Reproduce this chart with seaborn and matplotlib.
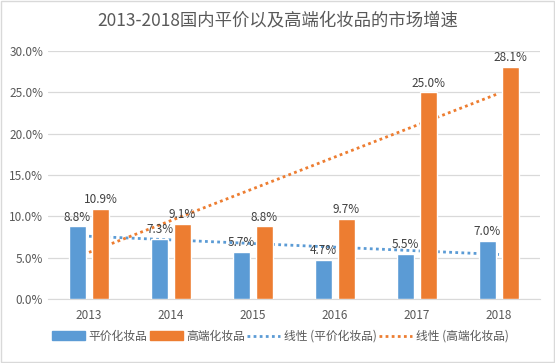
import numpy as np
import pandas as pd
import seaborn as sns
import matplotlib.pyplot as plt
from matplotlib.patches import Patch
from matplotlib.lines import Line2D

years = ['2013', '2014', '2015', '2016', '2017', '2018']
pingjia = [8.8, 7.3, 5.7, 4.7, 5.5, 7.0]
gaoduan = [10.9, 9.1, 8.8, 9.7, 25.0, 28.1]
series_names = ['平价化妆品', '高端化妆品']
trend_names = ['线性 (平价化妆品)', '线性 (高端化妆品)']
y_ticks = [0, 5, 10, 15, 20, 25, 30]

blue = '#5B9BD5'
orange = '#ED7D31'
txt = '#595959'

df = pd.DataFrame({
    'year': years * 2,
    'rate': pingjia + gaoduan,
    'kind': [series_names[0]] * 6 + [series_names[1]] * 6,
})

sns.set_style('white')
plt.rcParams['font.family'] = ['Noto Sans CJK SC', 'DejaVu Sans']

fig = plt.figure(figsize=(5.55, 3.63), dpi=100)
ax = fig.add_axes([0.0865, 0.176, 0.8865, 0.6835])

sns.barplot(data=df, x='year', y='rate', hue='kind', palette=[blue, orange],
            saturation=1, width=0.56, gap=0.22, ax=ax, legend=False)

# excel-style linear trendlines, drawn behind the bars
pos = np.arange(len(years))
for vals, c in [(pingjia, blue), (gaoduan, orange)]:
    sns.regplot(x=pos, y=np.array(vals), scatter=False, ci=None, truncate=True, ax=ax,
                line_kws=dict(color=c, lw=2, ls=(0, (1, 1.2))))
for ln in ax.lines:
    ln.set_zorder(2)
for p in ax.patches:
    p.set_zorder(3)

for cont in ax.containers:
    ax.bar_label(cont, labels=[f'{v:.1f}%' for v in cont.datavalues],
                 padding=2, fontsize=8.5, color='#404040', zorder=4)

ax.set_xlim(-0.5, 5.5)
ax.set_ylim(0, 30)
ax.set_yticks(y_ticks)
ax.set_yticklabels([f'{t:.1f}%' for t in y_ticks])
ax.set_xticks(pos)
ax.set_xticklabels(years)
ax.set_xlabel('')
ax.set_ylabel('')
ax.tick_params(axis='both', labelsize=8.5, colors=txt, length=0)
ax.tick_params(axis='x', pad=7)
ax.yaxis.grid(True, color='#D9D9D9', lw=0.9, zorder=0)
ax.set_axisbelow(True)
for s in ['top', 'right', 'left']:
    ax.spines[s].set_visible(False)
ax.spines['bottom'].set_color('#D9D9D9')

fig.text(0.5, 0.945, '2013-2018国内平价以及高端化妆品的市场增速', ha='center', va='center',
         fontsize=12.5, color=txt)

handles = [Patch(color=blue), Patch(color=orange),
           Line2D([], [], color=blue, lw=2, ls=(0, (1, 1.2))),
           Line2D([], [], color=orange, lw=2, ls=(0, (1, 1.2)))]
fig.legend(handles, series_names + trend_names, loc='center', bbox_to_anchor=(0.505, 0.074),
           ncol=4, frameon=False, fontsize=8.5, labelcolor=txt, handlelength=2.8,
           handletextpad=0.3, columnspacing=0.2)

fig.patches.append(plt.Rectangle((0.002, 0.002), 0.996, 0.996, transform=fig.transFigure,
                                 fill=False, edgecolor='#D9D9D9', lw=1))

fig.savefig('out.png', dpi=100)
